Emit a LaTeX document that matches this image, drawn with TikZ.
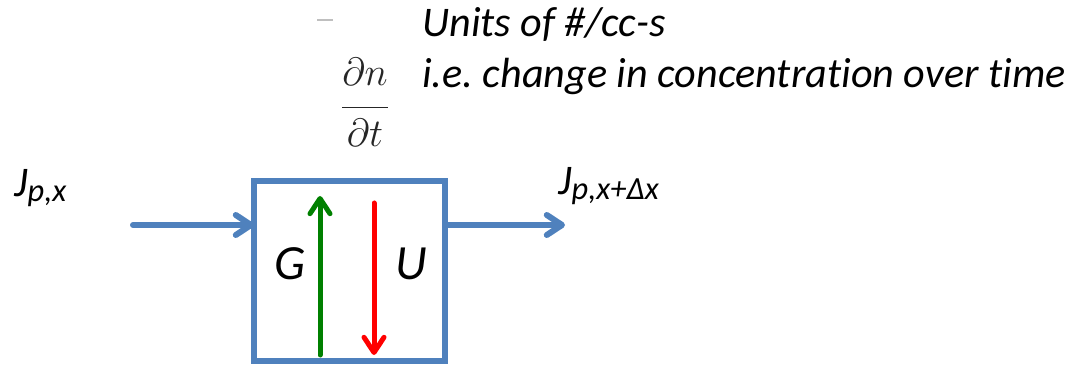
\RequirePackage{fix-cm}
\documentclass[tikz,border=0pt]{standalone}
\usepackage{fontspec}
\setmainfont{Carlito}[Ligatures=NoCommon]
\usetikzlibrary{arrows.meta,positioning}

\definecolor{boxblue}{RGB}{79,129,189}
\definecolor{gengreen}{RGB}{0,128,0}
\definecolor{usered}{RGB}{255,0,0}

\tikzset{
  flow/.style={line width=0.15cm, line cap=round, -{Straight Barb[round,length=0.38cm,width=0.5cm]}},
  cellbox/.style={draw=boxblue, line width=0.15cm, minimum width=4.775cm, minimum height=4.5cm, inner sep=0pt, outer sep=0pt},
  fluxlabel/.style={font=\itshape, inner sep=0pt, anchor=base west},
}
\newcommand{\fluxJ}[1]{{\fontsize{30}{34}\selectfont J}\raisebox{-0.3em}{\fontsize{23}{27}\selectfont #1}}

\begin{document}
\frenchspacing
\begin{tikzpicture}
  \useasboundingbox (0,0) rectangle (26.8,9.125);

  % 1. The control volume and the points the arrows start from
  \node[cellbox] (cell) at (8.7375,2.35) {};
  \coordinate (inflow) at (3.325,3.5);
  \coordinate (outflow) at (14.125,3.5);
  \coordinate (genlow) at (8.0,0.25);
  \coordinate (genhigh) at (8.0,4.225);
  \coordinate (uselow) at (9.35,0.25);
  \coordinate (usehigh) at (9.35,4.05);

  % 2. Fluxes in and out
  \draw[flow, boxblue] (inflow) -- (inflow -| cell.west);
  \draw[flow, boxblue] (cell.east |- outflow) -- (outflow);
  \node[fluxlabel] (jin) at (0.35,4.2) {\fluxJ{p,x}};
  \node[fluxlabel] (jout) at (13.95,4.25) {\fluxJ{p,x+Δx}};

  % 3. Generation and use inside the volume
  \draw[flow, gengreen, line width=0.125cm] (genlow) -- (genhigh);
  \draw[flow, usered, line width=0.125cm] (usehigh) -- (uselow);
  \node[font=\fontsize{35}{40}\selectfont\itshape] (gen) at (7.25,2.525) {G};
  \node[font=\fontsize{35}{40}\selectfont\itshape] (use) at (10.275,2.525) {U};

  % 4. Rate of change and its units
  \node[text=black!85, inner sep=0pt, anchor=base, font=\fontsize{28}{34}\selectfont] (rate) at (9.125,6.2)
    {$\displaystyle\frac{\partial n\rule[-0.49em]{0pt}{0.49em}}{\rule{0pt}{0.95em}\partial t}$};
  \draw[gray!50, line width=1pt] (7.925,8.625) -- (8.325,8.625);
  \node[fluxlabel, font=\fontsize{30}{36}\selectfont\itshape] (units) at (10.55,8.2) {Units of \#/cc-s};
  \node[fluxlabel, font=\fontsize{30}{36}\selectfont\itshape] (meaning) at (10.55,6.925) {i.e. change in concentration over time};
\end{tikzpicture}
\end{document}
